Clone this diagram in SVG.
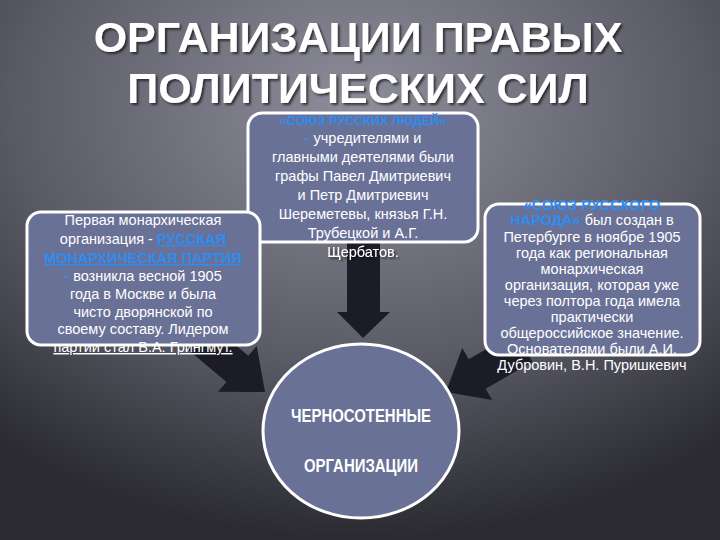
<svg xmlns="http://www.w3.org/2000/svg" width="720" height="540" viewBox="0 0 720 540">
<defs>
<radialGradient id="bg" cx="0.5" cy="0.2" r="0.8">
<stop offset="0" stop-color="#8e8e9a"/>
<stop offset="0.6" stop-color="#5a5a66"/>
<stop offset="1" stop-color="#2a2a30"/>
</radialGradient>
<filter id="sh"><feDropShadow dx="2" dy="2" stdDeviation="1" flood-color="#000" flood-opacity="0.6"/></filter>
<polygon id="ar" points="-90,-17 -36,-17 -36,-30 0,0 -36,30 -36,17 -90,17"/>
</defs>
<style>
.box{fill:#6a7196;stroke:#fff;stroke-width:3}
.t{font-family:"Liberation Sans",Arial,sans-serif;font-size:14.5px;fill:#fff;text-anchor:middle}
.b{fill:#2e8cf0;font-weight:bold}
.ttl{font-family:"Liberation Sans",Arial,sans-serif;font-size:43px;font-weight:bold;fill:#fff;text-anchor:middle}
.arr{fill:#1c1c26}
.c{font-family:"Liberation Sans",Arial,sans-serif;font-size:19px;font-weight:bold;fill:#fff;text-anchor:middle}
</style>
<rect width="720" height="540" fill="url(#bg)"/>
<g id="title" filter="url(#sh)">
<text class="ttl" x="358" y="52">ОРГАНИЗАЦИИ  ПРАВЫХ</text>
<text class="ttl" x="358" y="103">ПОЛИТИЧЕСКИХ  СИЛ</text>
</g>
<g id="connectors">
<polygon class="arr" points="347,242 380,242 380,312 390,312 363,338 337,312 347,312"/>
<use href="#ar" class="arr" transform="translate(265,392) rotate(40)"/>
<use href="#ar" class="arr" transform="translate(446,392) rotate(150)"/>
</g>
<g id="center">
<rect class="box" x="248" y="113" width="230" height="129" rx="14"/>
<text class="t" x="363" y="125"><tspan class="b" font-size="12.5">«СОЮЗ РУССКИХ ЛЮДЕЙ»</tspan></text>
<text class="t" x="363" y="143"><tspan class="b">-</tspan> учредителями и</text>
<text class="t" x="363" y="162">главными деятелями были</text>
<text class="t" x="363" y="181">графы Павел Дмитриевич</text>
<text class="t" x="363" y="200">и Петр Дмитриевич</text>
<text class="t" x="363" y="219">Шереметевы, князья Г.Н.</text>
<text class="t" x="363" y="238">Трубецкой и  А.Г.</text>
<text class="t" x="363" y="257" filter="url(#sh)">Щербатов.</text>
</g>
<g id="left">
<rect class="box" x="27" y="212" width="233" height="133" rx="14"/>
<text class="t" x="143" y="225">Первая монархическая</text>
<text class="t" x="143" y="244">организация - <tspan class="b" text-decoration="underline">РУССКАЯ</tspan></text>
<text class="t" x="143" y="263"><tspan class="b" text-decoration="underline">МОНАРХИЧЕСКАЯ ПАРТИЯ</tspan></text>
<text class="t" x="143" y="281"><tspan class="b">-</tspan> возникла весной 1905</text>
<text class="t" x="143" y="299">года в Москве и была</text>
<text class="t" x="143" y="317">чисто дворянской по</text>
<text class="t" x="143" y="334">своему составу. Лидером</text>
<text class="t" x="143" y="352" text-decoration="underline">партии стал В.А. Грингмут.</text>
</g>
<g id="right">
<rect class="box" x="485" y="204" width="215" height="151" rx="14"/>
<text class="t" x="592" y="210" font-size="12.5"><tspan class="b">«СОЮЗ РУССКОГО</tspan></text>
<text class="t" x="592" y="225" font-size="12.5"><tspan class="b">НАРОДА»</tspan>  был создан в</text>
<text class="t" x="592" y="242" font-size="12.5">Петербурге в ноябре 1905</text>
<text class="t" x="592" y="258" font-size="12.5">года как региональная</text>
<text class="t" x="592" y="274" font-size="12.5">монархическая</text>
<text class="t" x="592" y="290" font-size="12.5">организация, которая уже</text>
<text class="t" x="592" y="306" font-size="12.5">через полтора года имела</text>
<text class="t" x="592" y="322" font-size="12.5">практически</text>
<text class="t" x="592" y="338" font-size="12.5">общероссийское значение.</text>
<text class="t" x="592" y="354" font-size="12.5">Основателями были А.И.</text>
<text class="t" x="592" y="370" font-size="12.5">Дубровин, В.Н. Пуришкевич</text>
</g>
<g id="circle">
<ellipse cx="361" cy="431" rx="98" ry="87" fill="#6a7196" stroke="#fff" stroke-width="3"/>
<text class="c" x="361" y="422" textLength="140" lengthAdjust="spacingAndGlyphs">ЧЕРНОСОТЕННЫЕ</text>
<text class="c" x="361" y="472" textLength="114" lengthAdjust="spacingAndGlyphs">ОРГАНИЗАЦИИ</text>
</g>
</svg>
